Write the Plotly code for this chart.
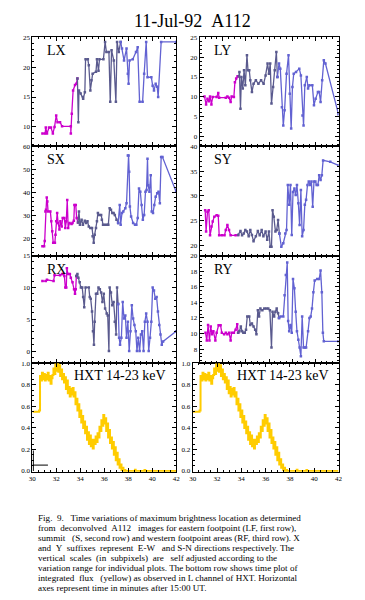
import plotly.graph_objects as go

# ---------------- data (time in minutes after 15:00 UT) ----------------
# LX
LX_T1 = [30.84, 31.06, 31.12, 31.22, 31.39, 31.55, 31.71, 31.85, 31.99, 32.10, 32.31, 32.48, 33.21, 33.21, 33.29, 33.40, 33.56, 33.67, 33.76]
LX_V1 = [8.9, 8.9, 9.9, 8.9, 9.9, 9.9, 8.9, 10.0, 11.9, 10.8, 10.8, 10.1, 10.1, 8.9, 12.2, 16.1, 17.0, 17.2, 18.1]
LX_T2 = [33.76, 33.84, 33.89, 34.03, 34.22, 34.24, 34.38, 34.44, 34.63, 34.71, 34.84, 34.93, 35.03, 35.31, 35.39, 35.52, 35.60, 35.93, 36.07, 36.18, 36.39, 36.50, 36.61, 36.80, 36.97, 37.07, 37.21, 37.37]
LX_V2 = [18.1, 10.8, 16.1, 15.6, 15.0, 14.7, 15.8, 21.3, 21.3, 20.3, 16.1, 17.8, 18.9, 19.2, 21.3, 19.4, 21.3, 21.3, 24.2, 22.5, 22.5, 14.2, 22.8, 21.1, 14.2, 24.2, 22.5, 24.2]
LX_T3 = [37.37, 37.48, 37.65, 37.86, 37.97, 38.03, 38.11, 38.38, 38.65, 38.79, 38.95, 39.20, 39.33, 39.50, 39.61, 39.93, 40.04, 40.15, 40.29, 40.42, 40.50, 40.75, 42.0]
LX_V3 = [24.2, 23.1, 21.1, 23.1, 18.9, 17.2, 21.1, 21.3, 22.5, 23.3, 14.2, 14.2, 18.9, 24.2, 18.3, 18.3, 16.9, 16.1, 17.2, 16.7, 15.0, 24.2, 24.2]

# LY
LY_T1 = [30.42, 30.56, 30.68, 30.79, 30.90, 31.02, 31.13, 31.47, 31.61, 31.69, 32.26, 32.40, 32.54, 32.68, 32.77, 32.96, 33.05, 33.16, 33.28, 33.39]
LY_V1 = [10.1, 8.1, 9.5, 8.9, 10.1, 8.1, 10.0, 10.0, 11.0, 9.8, 9.8, 10.1, 9.8, 8.7, 10.1, 10.0, 13.7, 14.6, 15.2, 15.2]
LY_T2 = [33.39, 33.44, 33.53, 33.61, 33.73, 33.84, 33.95, 34.09, 34.18, 34.29, 34.38, 34.52, 34.66, 34.86, 35.08, 35.31, 35.53, 35.70, 35.87, 35.99, 36.10, 36.21, 36.35, 36.49, 36.63, 36.72]
LY_V2 = [15.2, 16.3, 7.0, 15.0, 12.1, 16.7, 12.9, 20.5, 16.7, 16.7, 14.2, 11.2, 13.3, 14.2, 13.3, 14.2, 13.3, 15.4, 18.4, 15.8, 18.4, 8.3, 12.5, 16.7, 21.3, 15.0]
LY_T3 = [36.72, 36.86, 36.97, 37.11, 37.23, 37.34, 37.51, 37.68, 37.79, 37.91, 38.02, 38.13, 38.33, 38.61, 38.75, 38.89, 38.98, 39.09, 39.26, 39.37, 39.49, 39.74, 39.88, 40.02, 40.22, 40.33, 40.45, 40.59, 40.73, 40.87, 42.0]
LY_V3 = [15.0, 18.4, 17.1, 7.4, 2.8, 6.6, 15.8, 20.5, 10.8, 2.0, 12.5, 15.8, 16.3, 17.1, 15.4, 5.3, 2.8, 12.9, 15.0, 12.1, 12.9, 12.9, 7.9, 9.5, 11.2, 11.2, 8.7, 14.2, 19.2, 18.4, 5.6]

# SX
SX_T1 = [30.84, 30.98, 31.03, 31.09, 31.14, 31.20, 31.25, 31.31, 31.50, 31.58, 31.66, 31.74, 31.88, 31.93, 31.99, 32.07, 32.15, 32.26, 32.34, 32.45, 32.53, 32.67, 32.75, 32.83, 32.91, 32.99, 33.10, 33.27, 33.35, 33.46, 33.51, 33.62, 33.70, 33.81]
SX_V1 = [16.7, 16.7, 18.9, 31.8, 32.5, 37.8, 36.1, 31.8, 31.8, 27.5, 23.2, 18.2, 18.2, 21.7, 27.5, 31.1, 26.8, 23.9, 27.5, 25.3, 28.9, 28.9, 24.6, 27.5, 36.8, 24.6, 26.8, 26.3, 26.8, 27.8, 34.6, 34.6, 28.9, 27.0]
SX_T2 = [33.81, 33.89, 33.97, 34.11, 34.22, 34.38, 34.49, 34.60, 34.71, 34.84, 34.98, 35.03, 35.12, 35.20, 35.31, 35.39, 35.47, 35.58, 35.74, 35.80, 35.90, 36.07, 36.23, 36.34, 36.45, 36.56, 36.67, 36.78, 36.88, 37.02, 37.16]
SX_V2 = [27.0, 31.8, 26.0, 28.2, 26.0, 27.8, 26.8, 27.5, 25.3, 24.6, 24.6, 21.0, 18.2, 21.7, 24.6, 27.5, 31.1, 30.3, 30.3, 28.2, 26.0, 26.0, 26.0, 26.0, 33.2, 32.5, 31.1, 31.1, 30.3, 28.2, 26.8]
SX_T3 = [37.16, 37.29, 37.37, 37.48, 37.59, 37.76, 37.86, 37.97, 38.03, 38.08, 38.14, 38.24, 38.41, 38.57, 38.68, 38.79, 38.90, 39.01, 39.12, 39.22, 39.33, 39.44, 39.53, 39.61, 39.66, 39.77, 39.88, 39.96, 40.07, 40.18, 40.29, 40.42, 40.53, 40.64, 40.75, 40.86, 42.0]
SX_V3 = [26.8, 34.6, 26.0, 31.1, 31.8, 33.2, 35.4, 56.1, 56.1, 49.0, 33.9, 29.6, 26.8, 26.0, 26.0, 28.9, 41.8, 40.4, 34.6, 28.2, 30.3, 40.4, 41.1, 54.7, 43.2, 40.4, 47.5, 31.8, 31.1, 34.6, 38.2, 39.7, 40.4, 35.4, 55.4, 55.4, 40.4]

# SY
SY_T1 = [30.48, 30.56, 30.68, 30.79, 30.90, 31.02, 31.13, 31.27, 31.47, 31.61, 31.69, 31.92, 32.15, 32.26, 32.40, 32.54, 32.68, 33.11, 33.33]
SY_V1 = [27.1, 22.8, 26.8, 27.1, 22.0, 23.8, 24.8, 25.8, 26.1, 26.0, 22.0, 22.0, 22.0, 23.1, 24.1, 23.1, 22.0, 22.0, 22.1]
SY_T2 = [33.33, 33.53, 33.67, 33.81, 33.95, 34.09, 34.24, 34.38, 34.52, 34.66, 34.86, 35.03, 35.19, 35.36, 35.51, 35.70, 35.84, 35.99, 36.10, 36.21, 36.30, 36.41, 36.55, 36.66, 36.78, 36.89]
SY_V2 = [22.1, 22.9, 22.0, 22.4, 23.1, 22.8, 21.8, 23.1, 22.1, 20.8, 21.8, 22.9, 22.0, 23.1, 21.8, 22.8, 21.1, 22.8, 19.7, 19.7, 27.1, 25.8, 22.8, 23.1, 25.1, 22.4]
SY_T3 = [36.89, 37.06, 37.23, 37.40, 37.51, 37.62, 37.74, 37.85, 37.96, 38.07, 38.19, 38.30, 38.41, 38.53, 38.64, 38.75, 38.86, 38.98, 39.09, 39.20, 39.32, 39.43, 39.54, 39.66, 39.77, 39.88, 40.00, 40.11, 40.22, 40.33, 40.45, 40.56, 40.67, 41.29, 42.0]
SY_V3 = [22.4, 19.7, 20.4, 22.4, 23.1, 32.2, 28.2, 32.2, 22.1, 30.8, 31.5, 30.2, 32.2, 28.5, 24.1, 31.2, 21.8, 23.1, 28.2, 29.2, 32.2, 32.9, 32.2, 32.9, 27.8, 32.9, 32.9, 32.2, 32.2, 34.2, 33.2, 34.2, 37.2, 36.9, 36.2]

# RX
RX_T1 = [30.84, 31.12, 31.22, 31.77, 31.85, 32.31, 32.48, 32.59, 32.67, 32.75, 32.83, 32.88, 32.97, 33.13, 33.21, 33.35, 33.48, 33.56, 33.62, 33.67]
RX_V1 = [11.0, 11.0, 11.2, 11.0, 11.9, 11.9, 12.1, 12.1, 11.8, 10.0, 10.0, 13.0, 12.1, 12.1, 11.5, 10.8, 9.7, 9.0, 9.7, 11.8]
RX_T2 = [33.67, 33.76, 33.84, 33.95, 34.05, 34.16, 34.24, 34.33, 34.44, 34.71, 34.79, 34.87, 34.98, 35.06, 35.14, 35.20, 35.31, 35.42, 35.52, 35.63, 35.74, 35.85, 35.96, 36.07, 36.20, 36.29, 36.39, 36.45, 36.56, 36.67, 36.78, 36.88, 36.99, 37.07, 37.16]
RX_V2 = [11.8, 12.1, 11.5, 10.8, 10.0, 10.0, 8.5, 6.9, 10.0, 10.0, 8.5, 8.2, 6.2, 3.1, 1.0, 4.6, 9.0, 9.0, 10.0, 9.7, 9.2, 7.7, 9.0, 6.7, 5.9, 5.6, 0.0, 10.0, 9.2, 7.2, 7.7, 4.6, 2.6, 10.0, 7.4]
RX_T3 = [37.16, 37.24, 37.32, 37.43, 37.54, 37.65, 37.76, 37.86, 37.97, 38.08, 38.19, 38.30, 38.41, 38.52, 38.63, 38.73, 38.84, 38.95, 39.06, 39.17, 39.28, 39.39, 39.50, 39.61, 39.71, 39.82, 39.93, 40.04, 40.15, 40.26, 40.37, 40.48, 40.59, 40.69, 40.80, 40.91, 42.0]
RX_V3 = [7.4, 2.1, 1.0, 2.1, 7.7, 5.1, 5.6, 2.1, 4.6, 0.0, 3.1, 7.2, 5.1, 4.1, 3.1, 0.0, 2.1, 0.0, 2.6, 3.1, 0.0, 4.6, 5.9, 4.6, 0.0, 2.1, 4.6, 10.0, 9.5, 8.2, 8.5, 6.2, 4.1, 2.6, 1.0, 1.5, 3.1]

# RY
RY_T1 = [30.51, 30.62, 30.73, 30.85, 30.96, 31.07, 31.19, 31.36, 31.47, 31.64, 31.81, 31.92, 32.12, 32.26, 32.40, 32.54, 32.68, 32.77, 32.96, 33.11, 33.25, 33.33]
RY_V1 = [10.1, 9.1, 11.1, 9.1, 10.9, 9.9, 10.3, 9.1, 10.1, 11.05, 11.05, 10.1, 9.9, 10.1, 9.9, 10.1, 9.1, 10.1, 10.1, 10.5, 11.2, 10.1]
RY_T2 = [33.33, 33.44, 33.56, 33.67, 33.78, 33.90, 34.01, 34.12, 34.29, 34.38, 34.52, 34.66, 34.80, 34.91, 35.03, 35.14, 35.25, 35.42, 35.59, 35.76, 35.93, 36.07, 36.21, 36.30, 36.44, 36.55, 36.66, 36.78, 36.86]
RY_V2 = [10.1, 10.3, 10.9, 10.3, 10.1, 10.1, 10.5, 12.2, 12.2, 11.1, 11.3, 10.9, 10.5, 9.9, 13.0, 12.2, 13.2, 13.0, 13.2, 13.2, 13.2, 13.0, 8.2, 12.8, 12.2, 12.8, 13.2, 12.6, 12.0]
RY_T3 = [36.86, 37.00, 37.23, 37.34, 37.45, 37.57, 37.65, 37.74, 37.85, 37.96, 38.07, 38.19, 38.30, 38.41, 38.53, 38.64, 38.75, 38.86, 38.98, 39.09, 39.20, 39.37, 39.49, 39.60, 39.71, 39.83, 39.94, 40.16, 40.33, 40.45, 40.56, 40.65, 40.73, 42.0]
RY_V3 = [12.0, 12.2, 12.2, 14.9, 17.5, 19.1, 11.6, 10.3, 11.1, 10.1, 17.0, 15.8, 12.8, 10.3, 9.2, 8.2, 7.1, 12.2, 8.2, 8.2, 8.2, 10.3, 12.0, 12.2, 13.2, 15.3, 16.8, 17.0, 17.0, 18.1, 15.3, 10.1, 9.0, 9.0]

# HXT 14-23 keV integrated flux (normalised)
HXT_T = [30.00, 30.56, 30.64, 30.72, 30.80, 30.88, 30.96, 31.04, 31.12, 31.20, 31.28, 31.36, 31.44, 31.52, 31.60,
         31.68, 31.76, 31.84, 31.92, 32.00, 32.08, 32.16, 32.24, 32.32, 32.40, 32.48, 32.56, 32.64, 32.72, 32.80,
         32.88, 32.96, 33.04, 33.12, 33.20, 33.28, 33.36, 33.44, 33.52, 33.60, 33.68, 33.76, 33.84, 33.92, 34.00,
         34.08, 34.16, 34.24, 34.32, 34.40, 34.48, 34.56, 34.64, 34.72, 34.80, 34.88, 34.96, 35.04, 35.12, 35.20,
         35.28, 35.36, 35.44, 35.52, 35.60, 35.68, 35.76, 35.84, 35.92, 36.00, 36.08, 36.16, 36.24, 36.32, 36.40,
         36.48, 36.56, 36.64, 36.72, 36.80, 36.88, 36.96, 37.04, 37.12, 37.20, 37.28, 37.36, 37.44, 37.52, 37.60,
         37.68, 37.76, 38.50, 38.56, 38.62, 39.30, 39.36, 39.42, 42.00]
HXT_V = [0.55, 0.56, 0.88, 0.84, 0.91, 0.85, 0.90, 0.84, 0.89, 0.85, 0.91, 0.84, 0.88, 0.81, 0.86,
         0.89, 0.95, 0.90, 0.99, 0.93, 1.00, 0.92, 0.98, 0.88, 0.94, 0.85, 0.90, 0.82, 0.87, 0.76,
         0.84, 0.72, 0.78, 0.69, 0.76, 0.71, 0.77, 0.69, 0.73, 0.62, 0.67, 0.56, 0.62, 0.50, 0.56,
         0.45, 0.51, 0.40, 0.46, 0.35, 0.41, 0.29, 0.36, 0.25, 0.33, 0.23, 0.29, 0.21, 0.29, 0.25,
         0.32, 0.27, 0.35, 0.31, 0.41, 0.37, 0.47, 0.42, 0.52, 0.44, 0.49, 0.37, 0.44, 0.31, 0.38,
         0.26, 0.31, 0.21, 0.27, 0.15, 0.22, 0.10, 0.17, 0.06, 0.11, 0.03, 0.06, 0.01, 0.03, 0.00,
         0.01, 0.00, 0.00, 0.012, 0.00, 0.00, 0.01, 0.00, 0.00]

# small black mark in the lower-left panel
MARK_T1 = [30.08, 30.08]
MARK_V1 = [0.0, 0.19]
MARK_T2 = [30.0, 31.3]
MARK_V2 = [0.055, 0.055]

TITLE = "11-Jul-92\u00a0\u00a0A112"
PANEL_LABELS = ["LX", "LY", "SX", "SY", "RX", "RY", "HXT 14-23 keV", "HXT 14-23 keV"]
X_TICKS = [30, 32, 34, 36, 38, 40, 42]
CAPTION = [
    "Fig.\u00a0\u00a09.\u00a0\u00a0\u00a0Time variations of maximum brightness location as determined",
    "from\u00a0\u00a0deconvolved\u00a0\u00a0A112\u00a0\u00a0\u00a0images for eastern footpoint (LF, first row),",
    "summit\u00a0\u00a0\u00a0(S, second row) and western footpoint areas (RF, third row). X",
    "and\u00a0\u00a0Y\u00a0\u00a0suffixes\u00a0\u00a0represent\u00a0\u00a0E-W\u00a0\u00a0\u00a0and S-N directions respectively. The",
    "vertical\u00a0\u00a0scales\u00a0\u00a0(in\u00a0\u00a0subpixels)\u00a0\u00a0are\u00a0\u00a0\u00a0self adjusted according to the",
    "variation range for individual plots. The bottom row shows time plot of",
    "integrated\u00a0\u00a0flux\u00a0\u00a0\u00a0(yellow) as observed in L channel of HXT. Horizontal",
    "axes represent time in minutes after 15:00 UT.",
]

# ---------------- styling / layout ----------------
W, H = 365, 600
MAG = "#cc00cc"
DARK = "#5a5a8e"
LIGHT = "#6262d2"
YEL = "#ffcc00"
SERIF = "Liberation Serif"

def px_x(p):
    return p / W

def px_y(p):
    return 1 - p / H

COL_L = (29, 176)
COL_R = (200, 342)
COL_R4 = (193, 342)
ROWS = [(33, 144), (144, 255), (255, 364), (364, 474)]

panels = [
    # (xpix, row, yrange, dtick, minor)
    (COL_L, 0, [6.8, 25.1], 5, 1),
    (COL_R, 0, [-2.4, 25.2], 5, 1),
    (COL_L, 1, [12.6, 60.2], 10, 2),
    (COL_R, 1, [17.9, 40.1], 5, 1),
    (COL_L, 2, [-1.9, 15.0], 5, 1),
    (COL_R, 2, [6.2, 20.0], 2, 0.5),
    (COL_L, 3, [-0.006, 1.0], 0.2, 0.05),
    (COL_R4, 3, [-0.006, 1.0], 0.2, 0.05),
]

fig = go.Figure()

series = [
    (1, [(LX_T1, LX_V1, MAG), (LX_T2, LX_V2, DARK), (LX_T3, LX_V3, LIGHT)]),
    (2, [(LY_T1, LY_V1, MAG), (LY_T2, LY_V2, DARK), (LY_T3, LY_V3, LIGHT)]),
    (3, [(SX_T1, SX_V1, MAG), (SX_T2, SX_V2, DARK), (SX_T3, SX_V3, LIGHT)]),
    (4, [(SY_T1, SY_V1, MAG), (SY_T2, SY_V2, DARK), (SY_T3, SY_V3, LIGHT)]),
    (5, [(RX_T1, RX_V1, MAG), (RX_T2, RX_V2, DARK), (RX_T3, RX_V3, LIGHT)]),
    (6, [(RY_T1, RY_V1, MAG), (RY_T2, RY_V2, DARK), (RY_T3, RY_V3, LIGHT)]),
]

def axn(i, kind):
    return kind if i == 1 else f"{kind}{i}"

for i, segs in series:
    for t, v, c in segs:
        fig.add_trace(go.Scatter(
            x=t, y=v, mode="lines+markers", xaxis=axn(i, "x"), yaxis=axn(i, "y"),
            line=dict(color=c, width=1.3), marker=dict(color=c, size=2.5, symbol="square"),
            showlegend=False, hoverinfo="skip"))

for i in (7, 8):
    fig.add_trace(go.Scatter(
        x=HXT_T, y=HXT_V, mode="lines", line_shape="hv", xaxis=axn(i, "x"), yaxis=axn(i, "y"),
        line=dict(color=YEL, width=2), showlegend=False, hoverinfo="skip"))

for t, v in ((MARK_T1, MARK_V1), (MARK_T2, MARK_V2)):
    fig.add_trace(go.Scatter(x=t, y=v, mode="lines", xaxis="x7", yaxis="y7",
                             line=dict(color="black", width=1), showlegend=False, hoverinfo="skip"))

layout = dict(
    width=W, height=H, margin=dict(l=0, r=0, t=0, b=0),
    paper_bgcolor="white", plot_bgcolor="white", showlegend=False,
)

tickfont = dict(family=SERIF, size=7, color="black")
common = dict(showline=True, linecolor="black", linewidth=1, mirror="ticks",
              ticks="inside", ticklen=4, tickwidth=1, tickcolor="black",
              showgrid=False, zeroline=False, tickfont=tickfont, fixedrange=True)

annotations = []
for k, (xp, row, yr, dt, mn) in enumerate(panels):
    i = k + 1
    r0, r1 = ROWS[row]
    xa = dict(common, domain=[px_x(xp[0]), px_x(xp[1])], range=[30, 42],
              tickvals=X_TICKS, anchor=axn(i, "y"),
              minor=dict(dtick=0.5, tick0=30, ticks="inside", ticklen=2, tickcolor="black", tickwidth=1),
              showticklabels=(row == 3))
    ya = dict(common, domain=[px_y(r1), px_y(r0)], range=yr, dtick=dt, tick0=0,
              anchor=axn(i, "x"),
              minor=dict(dtick=mn, ticks="inside", ticklen=2, tickcolor="black", tickwidth=1))
    if row == 3:
        ya["tickformat"] = ".1f"
    layout["xaxis" if i == 1 else f"xaxis{i}"] = xa
    layout["yaxis" if i == 1 else f"yaxis{i}"] = ya

    # panel label
    if row < 3:
        annotations.append(dict(text=PANEL_LABELS[k], xref="paper", yref="paper",
                                 x=px_x(xp[0] + 13), y=px_y(r0 + 14), xanchor="left", yanchor="middle",
                                 showarrow=False, font=dict(family=SERIF, size=14, color="black")))
    else:
        annotations.append(dict(text=PANEL_LABELS[k], xref="paper", yref="paper",
                                 x=px_x(xp[1] - 8), y=px_y(r0 + 13), xanchor="right", yanchor="middle",
                                 showarrow=False, font=dict(family=SERIF, size=14, color="black")))

annotations.append(dict(text=TITLE, xref="paper", yref="paper", x=px_x(193), y=px_y(17),
                        xanchor="center", yanchor="middle", showarrow=False,
                        font=dict(family=SERIF, size=18, color="black")))

CAP_Y0, CAP_DY = 521.0, 10.1
for j, line in enumerate(CAPTION):
    annotations.append(dict(text=line, xref="paper", yref="paper", x=px_x(34), y=px_y(CAP_Y0 + j * CAP_DY),
                            xanchor="left", yanchor="middle", showarrow=False, borderpad=0,
                            font=dict(family=SERIF, size=9.1, color="black")))

layout["annotations"] = annotations
fig.update_layout(**layout)
fig.write_html(
    "out.html",
    config={"displayModeBar": False, "staticPlot": True},
    post_script="document.body.style.margin='0';document.body.style.overflow='hidden';",
)
